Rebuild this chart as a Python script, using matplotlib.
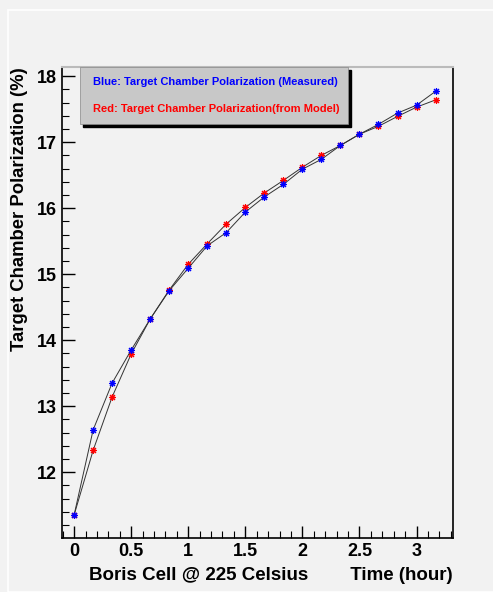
import numpy as np
import matplotlib.pyplot as plt
from matplotlib.patches import Rectangle

plt.rcParams['font.family'] = ['Liberation Sans', 'DejaVu Sans']

# Zeit in Stunden (alle 10 Minuten)
time_h = [0, 1/6, 2/6, 3/6, 4/6, 5/6, 1.0, 7/6, 8/6, 9/6, 10/6, 11/6,
          2.0, 13/6, 14/6, 15/6, 16/6, 17/6, 3.0, 19/6]
# Gemessen (blau)
pol_measured = [11.35, 12.64, 13.35, 13.85, 14.32, 14.75, 15.09, 15.43,
                15.63, 15.94, 16.17, 16.36, 16.59, 16.74, 16.95, 17.12,
                17.27, 17.44, 17.56, 17.77]
# Modell (rot)
pol_model = [11.35, 12.33, 13.14, 13.79, 14.32, 14.76, 15.15, 15.46,
             15.76, 16.01, 16.23, 16.42, 16.62, 16.80, 16.95, 17.12,
             17.24, 17.39, 17.53, 17.64]

x_ticks = [0, 0.5, 1, 1.5, 2, 2.5, 3]
x_ticklabels = ['0', '0.5', '1', '1.5', '2', '2.5', '3']
y_ticks = [12, 13, 14, 15, 16, 17, 18]

bg = '#f2f2f2'
fig = plt.figure(figsize=(4.93, 5.92), dpi=100, facecolor=bg)
ax = fig.add_axes([0.126, 0.091, 0.793, 0.796], facecolor=bg)

# Rahmen der Leinwand
fig.patches.append(Rectangle((8/493, 0), 1, 1 - 10/592, transform=fig.transFigure,
                             fill=False, edgecolor='white', lw=1.2))

star = (8, 2, 0)
ax.plot(time_h, pol_model, color='#333333', lw=0.7, marker=star, ms=5,
        mec='red', mfc='red', mew=0.8, zorder=2)
ax.plot(time_h, pol_measured, color='#333333', lw=0.7, marker=star, ms=5,
        mec='blue', mfc='blue', mew=0.8, zorder=3)

ax.set_xlim(-0.105, 3.32)
ax.set_ylim(11.0, 18.14)
ax.set_xticks(x_ticks)
ax.set_xticklabels(x_ticklabels, fontweight='bold')
ax.set_xticks(np.arange(-0.1, 3.31, 0.1), minor=True)
ax.set_yticks(y_ticks)
ax.set_yticklabels([str(v) for v in y_ticks], fontweight='bold')
ax.set_yticks(np.arange(11.2, 18.15, 0.2), minor=True)
ax.tick_params(which='both', direction='in', top=False, right=False)
ax.tick_params(which='major', length=9, width=1)
ax.tick_params(which='minor', length=5, width=0.8)
ax.tick_params(labelsize=13)

for s in ['left', 'bottom', 'right']:
    ax.spines[s].set_linewidth(1.2)
ax.spines['top'].set_color('#bbbbbb')
ax.spines['top'].set_linewidth(1.5)

fig.text(453/493, 1 - 575/592, 'Boris Cell @ 225 Celsius        Time (hour)',
         ha='right', va='center', fontsize=13.5, fontweight='bold')
fig.text(20/493, 1 - 67/592, 'Target Chamber Polarization (%)', rotation=90,
         ha='center', va='top', fontsize=13.3, fontweight='bold')

# Legende mit Schatten
ax_l, ax_r, ax_t, ax_b = 80, 348, 67, 124
fig.patches.append(Rectangle(((ax_l + 3)/493, 1 - (ax_b + 3)/592),
                             (ax_r - ax_l)/493, (ax_b - ax_t)/592,
                             transform=fig.transFigure, color='black', zorder=5))
fig.patches.append(Rectangle((ax_l/493, 1 - ax_b/592),
                             (ax_r - ax_l)/493, (ax_b - ax_t)/592,
                             transform=fig.transFigure, facecolor='#c8c8c8',
                             edgecolor='#888888', lw=0.5, zorder=6))
fig.text(93/493, 1 - 82/592, 'Blue: Target Chamber Polarization (Measured)',
         color='blue', fontsize=8, fontweight='bold', va='center', zorder=7)
fig.text(93/493, 1 - 109/592, 'Red: Target Chamber Polarization(from Model)',
         color='red', fontsize=8, fontweight='bold', va='center', zorder=7)

fig.savefig('out.png', dpi=100, facecolor=bg)
